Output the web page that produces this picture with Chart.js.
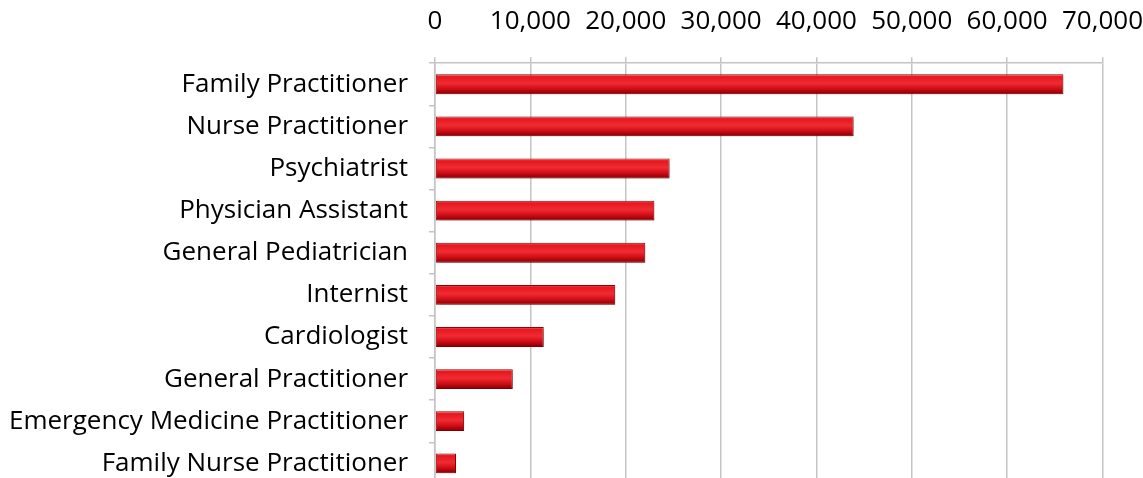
<!DOCTYPE html>
<html>
<head>
<meta charset="utf-8">
<script src="https://cdn.jsdelivr.net/npm/chart.js@4"></script>
<style>
  html, body { margin: 0; padding: 0; background: #fff; overflow: hidden; }
  #providerChart { display: block; margin-top: -7px; }
</style>
</head>
<body>
<canvas id="providerChart" width="1163" height="528" style="width:1163px;height:528px"></canvas>
<script>
const categories = [
    "Family Practitioner", "Nurse Practitioner", "Psychiatrist", "Physician Assistant",
    "General Pediatrician", "Internist", "Cardiologist", "General Practitioner",
    "Emergency Medicine Practitioner", "Family Nurse Practitioner"
];
const providerCounts = [65900, 43900, 24600, 23000, 22050, 18900, 11400, 8150, 3050, 2200];
const axisMax = 70000;
const axisStep = 10000;

const fontFamily = "'Open Sans', Lato, sans-serif";
const gridGray = "#c4c4c4";

// vertical red gradient per bar so each one looks rounded
const barFill = (ctx) => {
    const chart = ctx.chart;
    const yScale = chart.scales && chart.scales.y;
    if (!chart.chartArea || !yScale) return "#e0161c";
    const mid = yScale.getPixelForValue(ctx.dataIndex);
    const half = 10;
    const g = chart.ctx.createLinearGradient(0, mid - half, 0, mid + half);
    g.addColorStop(0, "#f27070");
    g.addColorStop(0.12, "#e8161e");
    g.addColorStop(0.45, "#ef2c32");
    g.addColorStop(0.7, "#d31018");
    g.addColorStop(0.9, "#a40008");
    g.addColorStop(1, "#7a0000");
    return g;
};

const barShadow = {
    id: "barShadow",
    beforeDatasetsDraw(chart) {
        const c = chart.ctx;
        c.save();
        c.shadowColor = "rgba(0,0,0,0.25)";
        c.shadowBlur = 4;
        c.shadowOffsetX = 2;
        c.shadowOffsetY = 2;
    },
    afterDatasetsDraw(chart) {
        chart.ctx.restore();
    }
};

new Chart("providerChart", {
    type: "bar",
    data: {
        labels: categories,
        datasets: [{
            data: providerCounts,
            backgroundColor: barFill,
            borderColor: "#9a0000",
            borderWidth: 1,
            borderSkipped: false,
            categoryPercentage: 1,
            barPercentage: 0.47
        }]
    },
    options: {
        indexAxis: "y",
        responsive: false,
        animation: false,
        layout: { padding: { top: -7, right: 16, bottom: 6, left: -12 } },
        plugins: {
            legend: { display: false },
            tooltip: { enabled: false }
        },
        scales: {
            x: {
                position: "top",
                min: 0,
                max: axisMax,
                ticks: {
                    stepSize: axisStep,
                    color: "#000",
                    padding: 20,
                    font: { family: fontFamily, size: 26 },
                    callback: (v) => v.toLocaleString("en-US")
                },
                grid: { color: gridGray, lineWidth: 1.5, tickLength: 6 },
                border: { color: gridGray, width: 1.5 }
            },
            y: {
                ticks: {
                    color: "#000",
                    padding: 21,
                    font: { family: fontFamily, size: 26 }
                },
                grid: { drawOnChartArea: false, color: gridGray, lineWidth: 1.5, tickLength: 6 },
                border: { color: gridGray, width: 1.5 }
            }
        }
    },
    plugins: [barShadow]
});
</script>
</body>
</html>
